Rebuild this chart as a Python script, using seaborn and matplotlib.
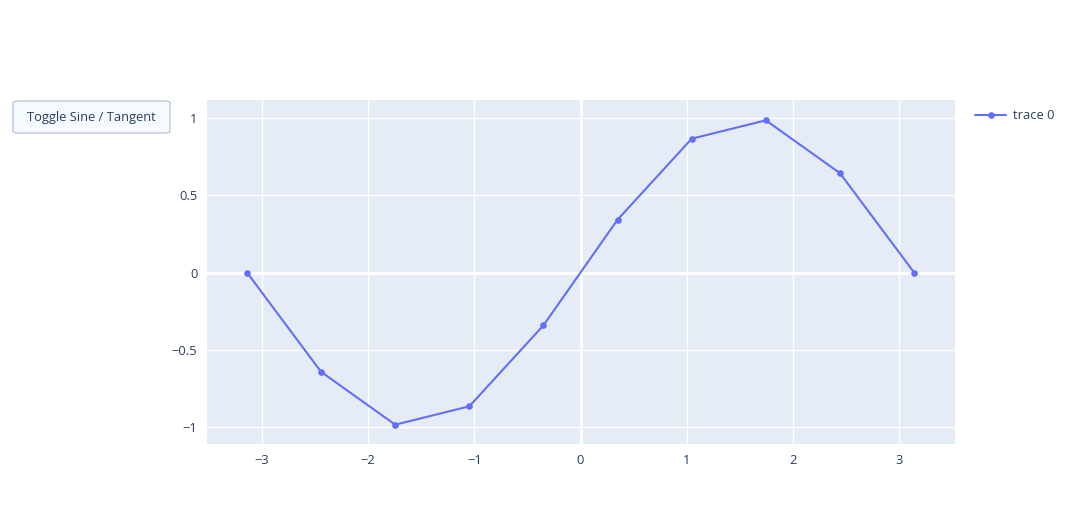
import matplotlib
matplotlib.use('Agg')
import matplotlib.pyplot as plt
import matplotlib.patches as mpatches
import pandas as pd
import seaborn as sns

# values (10 points, -pi .. pi)
x_vals = [-3.1416, -2.4435, -1.7453, -1.0472, -0.3491, 0.3491, 1.0472, 1.7453, 2.4435, 3.1416]
y_vals = [0.0, -0.643, -0.985, -0.866, -0.342, 0.342, 0.866, 0.985, 0.643, 0.0]
x_ticks = [-3, -2, -1, 0, 1, 2, 3]
y_ticks = [-1, -0.5, 0, 0.5, 1]
y_tick_labels = ['\u22121', '\u22120.5', '0', '0.5', '1']
x_tick_labels = ['\u22123', '\u22122', '\u22121', '0', '1', '2', '3']

df = pd.DataFrame({'x': x_vals, 'y': y_vals, 'series': 'trace 0'})

sns.set_style('white')
plt.rcParams['font.family'] = ['Open Sans', 'DejaVu Sans']
text_col = '#2a3f5f'
fs = 9.3

fig = plt.figure(figsize=(10.7, 5.25), dpi=100)
ax = fig.add_axes([207 / 1070, 81 / 525, 748 / 1070, 344 / 525])
ax.set_facecolor('#e5ecf6')

sns.lineplot(data=df, x='x', y='y', hue='series', palette=['#636efa'], marker='o',
             markersize=4.8, markeredgewidth=0, linewidth=1.5, ax=ax, zorder=3)

ax.set_xlim(-3.518, 3.527)
ax.set_ylim(-1.11, 1.1165)
ax.set_xticks(x_ticks)
ax.set_xticklabels(x_tick_labels)
ax.set_yticks(y_ticks)
ax.set_yticklabels(y_tick_labels)
ax.grid(True, color='white', linewidth=1)
ax.axhline(0, color='white', linewidth=2, zorder=2)
ax.axvline(0, color='white', linewidth=2, zorder=2)
ax.set_axisbelow(True)
for s in ax.spines.values():
    s.set_visible(False)
ax.tick_params(axis='both', length=0, labelsize=fs, labelcolor=text_col, pad=7)
ax.set_xlabel('')
ax.set_ylabel('')

ax.legend(loc='upper left', bbox_to_anchor=(970 / 1070, 1 - 104 / 525), bbox_transform=fig.transFigure,
          frameon=False, fontsize=fs, labelcolor=text_col, handlelength=2.4, handletextpad=0.5,
          borderaxespad=0)

# the toggle button in the top-left corner
btn = mpatches.FancyBboxPatch((13 / 1070, 1 - 133 / 525), 157 / 1070, 32 / 525,
                              boxstyle='round,pad=0,rounding_size=0.004', transform=fig.transFigure,
                              facecolor='#f4faff', edgecolor='#bec8d9', linewidth=1)
fig.patches.append(btn)
fig.text(91 / 1070, 1 - 117 / 525, 'Toggle Sine / Tangent', ha='center', va='center',
         fontsize=fs, color=text_col)

fig.savefig('out.png', dpi=100)
